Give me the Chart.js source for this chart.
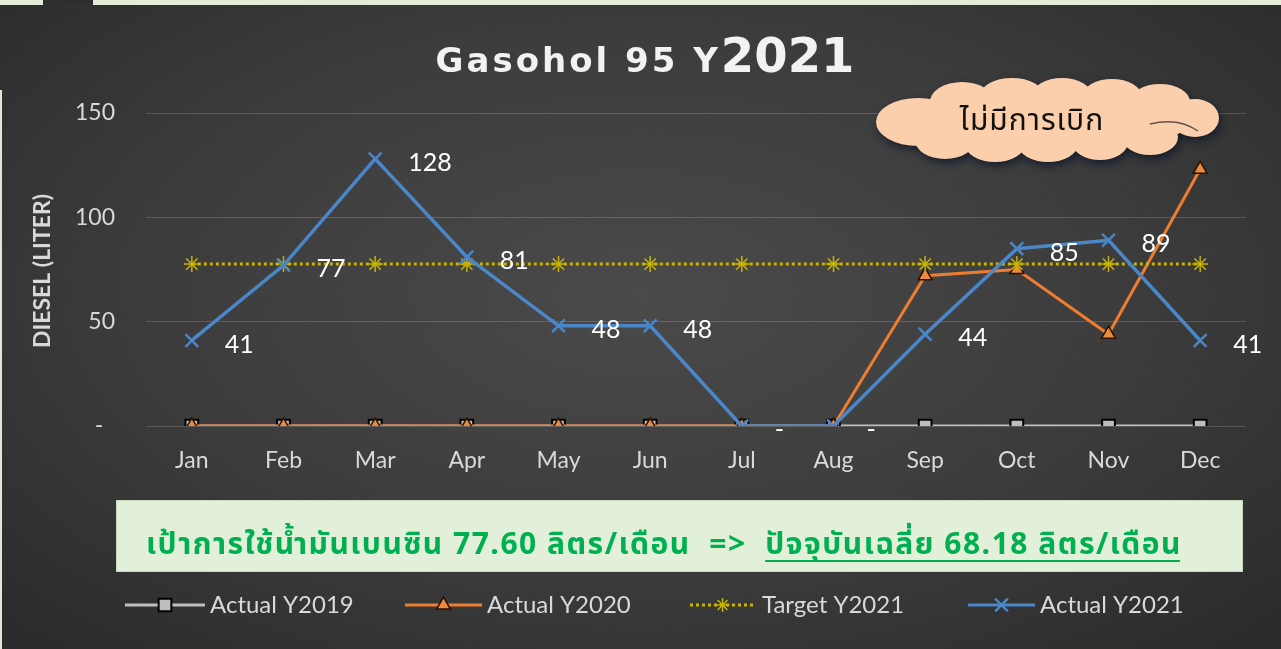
<!DOCTYPE html>
<html><head><meta charset="utf-8">
<script src="https://cdn.jsdelivr.net/npm/chart.js@4.4.0/dist/chart.umd.min.js"></script>
<style>
html,body{margin:0;padding:0;width:1281px;height:649px;overflow:hidden;background:#e3ebd9;}
#wrap{position:absolute;left:0;top:5px;width:1281px;height:644px;background:radial-gradient(ellipse 70% 75% at 50% 45%, #4a4a4a 0%, #3c3c3c 55%, #2b2b2b 100%);}
#blk{position:absolute;left:43px;top:0;width:50px;height:5px;background:#2e2e2e;}
#lstrip{position:absolute;left:0;top:90px;width:2px;height:559px;background:#dfe8d3;}
canvas{position:absolute;left:0;top:0;}
</style></head>
<body>
<div id="wrap"></div><div id="blk"></div><div id="lstrip"></div>
<canvas id="c" width="1281" height="649"></canvas>
<script>
const months = ['Jan','Feb','Mar','Apr','May','Jun','Jul','Aug','Sep','Oct','Nov','Dec'];
const actual2019 = [0,0,0,0,0,0,0,0,0,0,0,0];
const actual2020 = [0,0,0,0,0,0,0,0,72,75,44,123];
const target2021 = [77.6,77.6,77.6,77.6,77.6,77.6,77.6,77.6,77.6,77.6,77.6,77.6];
const actual2021 = [41,77,128,81,48,48,0,0,44,85,89,41];
const yTickValues = [0,50,100,150];

const titleMain = 'Gasohol 95 Y';
const titleYear = '2021';
const yAxisTitle = 'DIESEL (LITER)';
const cloudText = 'ไม่มีการเบิก';
const noteText1 = 'เป้าการใช้น้ำมันเบนซิน 77.60 ลิตร/เดือน  =>  ';
const noteText2 = 'ปัจจุบันเฉลี่ย 68.18 ลิตร/เดือน';
const legendNames = ['Actual Y2019','Actual Y2020','Target Y2021','Actual Y2021'];

const C2019 = '#bfbfbf', C2020 = '#ed7d31', CT = '#c8b400', C2021 = '#4a86c8';
const TXT = '#d9d9d9';
const FONT = 'Lato, "Liberation Sans", sans-serif';
const THAI = 'Tahoma, "Noto Sans Thai", "Noto Sans", "Loma", "Garuda", sans-serif';

function drawMarker(ctx, style, x, y, r, fill, stroke, lw){
  ctx.save();
  ctx.beginPath();
  ctx.lineWidth = lw; ctx.strokeStyle = stroke; ctx.fillStyle = fill;
  if(style==='rect'){
    const s = r*Math.SQRT1_2;
    ctx.rect(x-s,y-s,2*s,2*s); ctx.fill(); ctx.stroke();
  } else if(style==='triangle'){
    ctx.moveTo(x, y-r); ctx.lineTo(x+r*0.866, y+r*0.5); ctx.lineTo(x-r*0.866, y+r*0.5); ctx.closePath(); ctx.fill(); ctx.stroke();
  } else if(style==='star'){
    for(let k=0;k<4;k++){const a=k*Math.PI/4; ctx.moveTo(x+Math.cos(a)*r,y+Math.sin(a)*r); ctx.lineTo(x-Math.cos(a)*r,y-Math.sin(a)*r);} ctx.stroke();
  } else if(style==='crossRot'){
    const d=r*0.707; ctx.moveTo(x-d,y-d); ctx.lineTo(x+d,y+d); ctx.moveTo(x+d,y-d); ctx.lineTo(x-d,y+d); ctx.stroke();
  }
  ctx.restore();
}

const decor = {
  id:'decor',
  afterDraw(chart){
    const ctx = chart.ctx;
    ctx.save();
    // Title
    ctx.fillStyle = '#f2f2f2';
    ctx.textBaseline = 'alphabetic';
    ctx.textAlign = 'left';
    ctx.font = 'bold 34px "DejaVu Sans", sans-serif';
    ctx.letterSpacing = '3px';
    const w1 = ctx.measureText(titleMain).width;
    ctx.font = 'bold 48px "DejaVu Sans", sans-serif';
    ctx.letterSpacing = '0px';
    const w2 = ctx.measureText(titleYear).width;
    let tx = 645 - (w1+w2)/2;
    ctx.font = 'bold 34px "DejaVu Sans", sans-serif';
    ctx.letterSpacing = '3px';
    ctx.fillText(titleMain, tx, 72);
    ctx.font = 'bold 48px "DejaVu Sans", sans-serif';
    ctx.letterSpacing = '0px';
    ctx.fillText(titleYear, tx+w1, 72);

    // Y axis title
    ctx.save();
    ctx.translate(43, 271);
    ctx.rotate(-Math.PI/2);
    ctx.font = 'bold 23px ' + FONT;
    ctx.fillStyle = TXT;
    ctx.textAlign = 'center'; ctx.textBaseline = 'middle';
    ctx.fillText(yAxisTitle, 0, 0);
    ctx.restore();

    // Cloud
    ctx.save();
    ctx.shadowColor = 'rgba(10,20,40,0.75)';
    ctx.shadowBlur = 8; ctx.shadowOffsetX = 2; ctx.shadowOffsetY = 4;
    ctx.fillStyle = '#fbcfac';
    ctx.beginPath();
    const lobes = [[918,122,42,24],[962,102,32,20],[1012,96,32,18],[1062,96,30,18],[1112,97,30,18],[1160,102,30,18],[1195,118,24,19],
                   [945,140,30,19],[995,144,30,18],[1048,144,30,18],[1100,142,28,18],[1150,137,28,18],[1045,120,150,30]];
    lobes.forEach(l=>{ctx.moveTo(l[0]+l[2],l[1]); ctx.ellipse(l[0],l[1],l[2],l[3],0,0,Math.PI*2);});
    ctx.fill();
    ctx.restore();
    ctx.save();
    ctx.strokeStyle = 'rgba(60,50,50,0.8)'; ctx.lineWidth = 1.5;
    ctx.beginPath(); ctx.moveTo(1150,124); ctx.quadraticCurveTo(1178,117,1198,131); ctx.stroke();
    ctx.restore();
    ctx.fillStyle = '#111';
    ctx.font = '30px ' + THAI;
    ctx.letterSpacing = '1px';
    ctx.textAlign = 'center'; ctx.textBaseline = 'middle';
    ctx.fillText(cloudText, 1032, 124);
    ctx.letterSpacing = '0px';

    // Green note box
    ctx.fillStyle = '#e2efd9';
    ctx.fillRect(116, 500, 1127, 72);
    ctx.strokeStyle = '#c9d9bd'; ctx.lineWidth = 1;
    ctx.strokeRect(116.5, 500.5, 1126, 71);
    ctx.font = 'bold 30px ' + THAI;
    ctx.letterSpacing = '1.5px';
    ctx.fillStyle = '#00b050';
    ctx.textAlign = 'left'; ctx.textBaseline = 'alphabetic';
    const n1 = ctx.measureText(noteText1).width, n2 = ctx.measureText(noteText2).width;
    const nx = 664 - (n1+n2)/2;
    ctx.fillText(noteText1, nx, 554);
    ctx.fillText(noteText2, nx+n1, 554);
    ctx.fillRect(nx+n1, 560, n2-2, 2);
    ctx.letterSpacing = '0px';

    // Legend
    const items = [
      {x0:125,x1:205,tx:210,color:C2019,dash:[],style:'rect',fill:'#bdbdbd',stroke:'#000',r:9,plw:2},
      {x0:405,x1:482,tx:487,color:C2020,dash:[],style:'triangle',fill:'#e98a3e',stroke:'#2a1200',r:8,plw:1.5},
      {x0:690,x1:755,tx:762,color:CT,dash:[3,3],style:'star',fill:CT,stroke:CT,r:7,plw:1.5},
      {x0:968,x1:1035,tx:1040,color:C2021,dash:[],style:'crossRot',fill:C2021,stroke:C2021,r:9,plw:2.5}
    ];
    items.forEach((it,i)=>{
      ctx.save();
      ctx.strokeStyle = it.color; ctx.lineWidth = 3; ctx.setLineDash(it.dash);
      ctx.beginPath(); ctx.moveTo(it.x0,605); ctx.lineTo(it.x1,605); ctx.stroke();
      ctx.setLineDash([]);
      drawMarker(ctx, it.style, (it.x0+it.x1)/2, 605, it.r, it.fill, it.stroke, it.plw);
      ctx.restore();
      ctx.fillStyle = TXT;
      ctx.font = '24px ' + FONT;
      ctx.textAlign='left'; ctx.textBaseline='middle';
      ctx.fillText(legendNames[i], it.tx, 605);
    });
    ctx.restore();
  },
  afterDatasetsDraw(chart){
    const ctx = chart.ctx;
    const meta = chart.getDatasetMeta(3);
    ctx.save();
    ctx.fillStyle = '#ffffff';
    ctx.font = '25px ' + FONT;
    ctx.textAlign = 'left'; ctx.textBaseline = 'middle';
    meta.data.forEach((p,i)=>{
      const v = actual2021[i];
      ctx.fillText(v===0 ? '-' : String(v), p.x+33, p.y+4);
    });
    ctx.restore();
  }
};

new Chart(document.getElementById('c'), {
  type:'line',
  data:{
    labels: months,
    datasets:[
      {label:legendNames[0], data:actual2019, borderColor:C2019, borderWidth:3, pointStyle:'rect', pointRadius:9, pointBackgroundColor:'#bdbdbd', pointBorderColor:'#000', pointBorderWidth:2, order:3, tension:0},
      {label:legendNames[1], data:actual2020, borderColor:C2020, borderWidth:3, pointStyle:'triangle', pointRadius:8, pointBackgroundColor:'#e98a3e', pointBorderColor:'#2a1200', pointBorderWidth:1.5, order:2, tension:0},
      {label:legendNames[2], data:target2021, borderColor:CT, borderWidth:3, borderDash:[3,3], pointStyle:'star', pointRadius:8, pointBackgroundColor:CT, pointBorderColor:CT, pointBorderWidth:1.5, order:1, tension:0},
      {label:legendNames[3], data:actual2021, borderColor:C2021, borderWidth:3.5, pointStyle:'crossRot', pointRadius:9, pointBackgroundColor:C2021, pointBorderColor:C2021, pointBorderWidth:2.5, order:0, tension:0}
    ]
  },
  options:{
    responsive:false, animation:false, devicePixelRatio:1,
    layout:{padding:{left:0,right:35,top:113,bottom:0}},
    plugins:{legend:{display:false}, title:{display:false}, tooltip:{enabled:false}},
    scales:{
      x:{
        offset:true,
        grid:{display:false, drawTicks:false},
        border:{display:false},
        ticks:{color:TXT, font:{family:FONT, size:23}, padding:21, maxRotation:0},
        afterFit(s){ s.height = 223; }
      },
      y:{
        min:0, max:150,
        afterBuildTicks(s){ s.ticks = yTickValues.map(v=>({value:v})); },
        grid:{color:'rgba(255,255,255,0.16)', lineWidth:1, drawTicks:false},
        border:{display:false},
        ticks:{color:TXT, font:{family:FONT, size:23}, padding:31, callback:(v)=> v===0 ? '-  ' : v},
        afterFit(s){ s.width = 146; }
      }
    }
  },
  plugins:[decor]
});
</script>
</body></html>
